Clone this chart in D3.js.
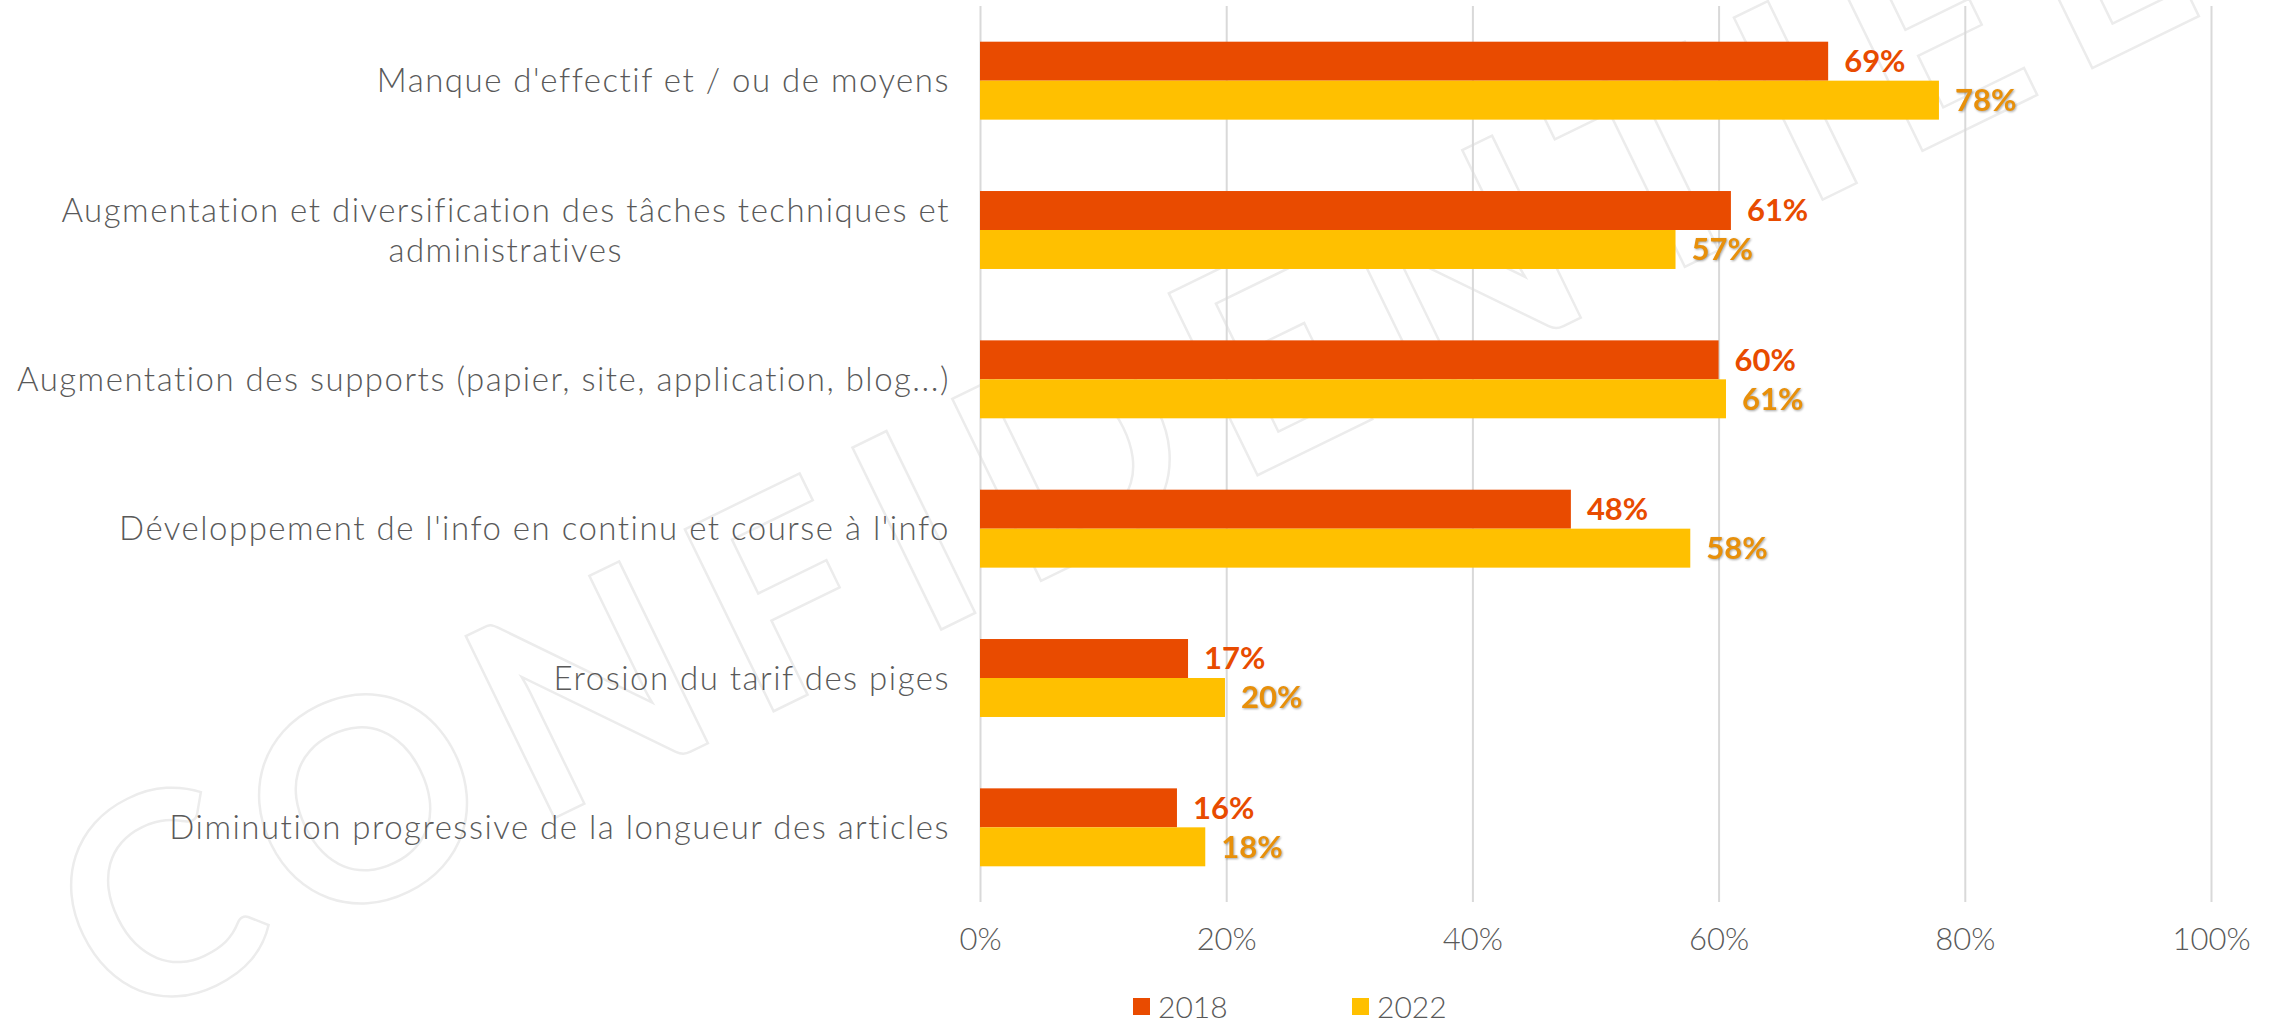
<!DOCTYPE html>
<meta charset="utf-8">
<script src="https://cdn.jsdelivr.net/npm/d3@7/dist/d3.min.js"></script>
<style>
    body { margin: 0; background: #fff; }
    text { font-family: "Century Gothic", "Lato", "Open Sans", sans-serif; }
    .cat text { fill: #595959; font-size: 33px; font-weight: 300; letter-spacing: 1.5px; }
    .xaxis text { fill: #595959; font-size: 31px; font-weight: 300; }
    .xaxis line { stroke: #d9d9d9; stroke-width: 2; }
    .xaxis path { display: none; }
    .val { font-size: 31px; font-weight: bold; }
    .legend text { fill: #595959; font-size: 30px; font-weight: 300; }
</style>
<body>
<script>

    // data
    var categories = [
        "Manque d'effectif et / ou de moyens",
        "Augmentation et diversification des tâches techniques et\nadministratives",
        "Augmentation des supports (papier, site, application, blog...)",
        "Développement de l'info en continu et course à l'info",
        "Erosion du tarif des piges",
        "Diminution progressive de la longueur des articles"
    ]
    var years = ["2018", "2022"]
    var values2018 = [68.9, 61.0, 60.0, 48.0, 16.9, 16.0]
    var values2022 = [77.9, 56.5, 60.6, 57.7, 19.9, 18.3]
    var xTicks = [0, 20, 40, 60, 80, 100]

    var colors = ["#E94B00", "#FFC000"]
    var labelColors = ["#E84B00", "#E8900A"]

    var W = 2284, H = 1021
    var m = {left: 980, right: 2211, top: 6, bottom: 902}

    var rows = categories.map((c, i) => {
        return {name: c, vals: [values2018[i], values2022[i]]}
    })

    var svg = d3.select("body").append("svg").attr("width", W).attr("height", H)

    // watermark
    svg.append("text")
        .attr("transform", "translate(118,1031) rotate(-26)")
        .text("CONFIDENTIEL")
        .style("font-family", "'Century Gothic', 'Lato', sans-serif")
        .style("font-weight", "bold")
        .style("font-size", "280px")
        .style("letter-spacing", "28px")
        .style("fill", "none")
        .style("stroke", "#ececec")
        .style("stroke-width", 2.5)

    var x = d3.scaleLinear().domain([0, 100]).range([m.left, m.right])
    var y = d3.scaleBand().domain(categories).range([m.top, m.bottom]).paddingInner(0.478).paddingOuter(0.239)
    var ySub = d3.scaleBand().domain(years).range([0, y.bandwidth()])

    var xAxis = d3.axisBottom(x).tickValues(xTicks).tickFormat(d => d + "%").tickSize(-(m.bottom - m.top)).tickPadding(26)
    svg.append("g").attr("class", "xaxis").attr("transform", "translate(0," + m.bottom + ")").call(xAxis)
        .selectAll("text").attr("dy", "0.71em")

    var groups = svg.selectAll(".row").data(rows).enter().append("g")
        .attr("class", "row")
        .attr("transform", d => "translate(0," + y(d.name) + ")")

    years.forEach((yr, s) => {
        groups.append("rect")
            .attr("x", x(0))
            .attr("y", ySub(yr))
            .attr("height", ySub.bandwidth())
            .attr("width", d => x(d.vals[s]) - x(0))
            .style("fill", colors[s])

        var lab = groups.append("text")
            .attr("class", "val")
            .attr("x", d => x(d.vals[s]) + 16)
            .attr("y", ySub(yr) + ySub.bandwidth() / 2)
            .attr("dy", "0.35em")
            .text(d => Math.round(d.vals[s]) + "%")
            .style("fill", labelColors[s])
        if (s == 1) lab.style("filter", "drop-shadow(1.5px 1.5px 1px rgba(0,0,0,0.35))")
    })

    // category labels
    var cat = svg.append("g").attr("class", "cat")
    rows.forEach(d => {
        var lines = d.name.split("\n")
        var cy = y(d.name) + y.bandwidth() / 2
        var t = cat.append("text").attr("text-anchor", "end")
        lines.forEach((ln, k) => {
            var tx = t.append("tspan").text(ln)
                .attr("y", cy + (k - (lines.length - 1) / 2) * 40)
                .attr("dy", "0.35em")
            if (k == 0) tx.attr("x", 950)
        })
        if (lines.length > 1) {
            // centre the wrapped lines on each other, like the original
            var w0 = t.select("tspan").node().getComputedTextLength()
            t.selectAll("tspan").attr("text-anchor", "middle").attr("x", 950 - w0 / 2)
        }
    })

    // legend
    var legX = [1133, 1352]
    var leg = svg.append("g").attr("class", "legend")
    years.forEach((yr, i) => {
        leg.append("rect").attr("x", legX[i]).attr("y", 998).attr("width", 17).attr("height", 17).style("fill", colors[i])
        leg.append("text").attr("x", legX[i] + 25).attr("y", 1007).attr("dy", "0.35em").text(yr)
    })

</script>
</body>
